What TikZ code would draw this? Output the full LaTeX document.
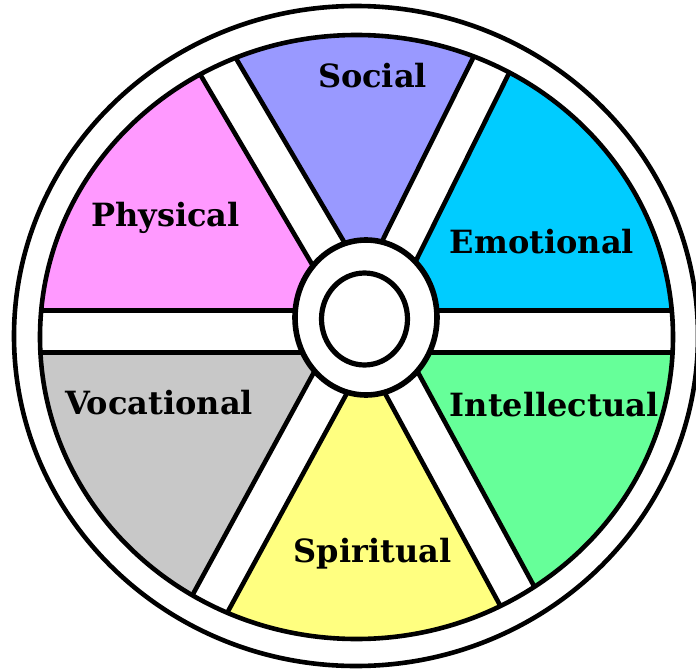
\documentclass[tikz,border=0pt]{standalone}
\usepackage{fontspec}
\setmainfont{DejaVu Serif}
\usepackage{tikz}
\definecolor{socialblue}{RGB}{153,153,255}
\definecolor{emotioncyan}{RGB}{0,204,255}
\definecolor{intellgreen}{RGB}{102,255,153}
\definecolor{spirityellow}{RGB}{255,255,128}
\definecolor{vocgray}{RGB}{200,200,200}
\definecolor{physpink}{RGB}{255,153,255}

\begin{document}
\begin{tikzpicture}[x=0.5pt, y=0.5pt, line width=2.3pt,
  spokebar/.style={draw=black, fill=white, line join=round},
  secttext/.style={font=\fontsize{16}{19}\selectfont\bfseries, anchor=base}]
\clip (-356,-334) rectangle (340,336);
\coordinate (hub) at (10,18.5);
\draw[fill=white] (0,0) ellipse [x radius=342, y radius=330];
\begin{scope}
\clip (0.5,-1) ellipse [x radius=316.5, y radius=302];
\foreach \a/\b/\c in {0/63.6/emotioncyan, 63.6/120.5/socialblue, 120.5/180/physpink,
  180/241.4/vocgray, 241.4/298.5/spirityellow, 298.5/360/intellgreen}
  \fill[\c] (hub) -- +(\a:500) -- +({(\a+\b)/2}:700) -- +(\b:500) -- cycle;
\foreach \a in {63.6, 120.5, 241.4, 298.5}
  \draw[spokebar, shift={(hub)}, rotate=\a] (0,-19.5) -- (500,-19.5) -- (500,19.5) -- (0,19.5) -- cycle;
\draw[spokebar] (-400,-16.5) -- (400,-16.5) -- (400,25.5) -- (-400,25.5) -- cycle;
\end{scope}
\draw (0.5,-1) ellipse [x radius=316.5, y radius=302];
\draw[fill=white, line width=2.8pt] (hub) ellipse [x radius=71, y radius=77.5];
\draw[line width=2.6pt] (8.5,17) ellipse [x radius=43, y radius=46];
\node[secttext] (social) at (16.5,249) {Social};
\node[secttext] (physical) at (-190.5,110) {Physical};
\node[secttext] (emotional) at (186,83) {Emotional};
\node[secttext] (vocational) at (-197,-78) {Vocational};
\node[secttext] (intellectual) at (198,-80) {Intellectual};
\node[secttext] (spiritual) at (16.5,-226) {Spiritual};
\end{tikzpicture}
\end{document}
